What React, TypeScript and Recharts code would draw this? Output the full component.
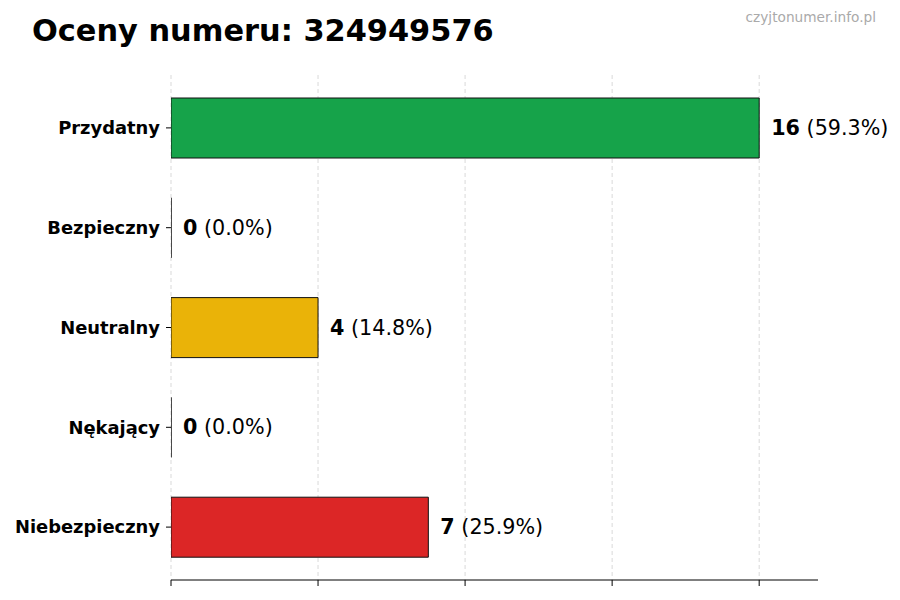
import { Bar, BarChart, CartesianGrid, Cell, LabelList, XAxis, YAxis } from 'recharts';

const CATEGORIES = ['Przydatny', 'Bezpieczny', 'Neutralny', 'Nękający', 'Niebezpieczny'];
const COUNTS = [16, 0, 4, 0, 7];
const COLORS = ['#16a34a', '#6b7280', '#eab308', '#f97316', '#dc2626'];
const X_TICKS = [0, 4, 8, 12, 16];
const X_MAX = 17.6;

const TOTAL = COUNTS.reduce((sum, n) => sum + n, 0);

const data = CATEGORIES.map((name, i) => ({
  name,
  value: COUNTS[i],
  pct: TOTAL ? (COUNTS[i] / TOTAL) * 100 : 0,
}));

const FONT = '"DejaVu Sans", sans-serif';

/** Rect drawn as a path so zero-width bars still show their outline. */
function OutlinedBar(props: any) {
  const { x, y, width, height, fill } = props;
  const w = Math.max(width || 0, 0);
  return (
    <path
      d={`M${x},${y}h${w}v${height}h${-w}Z`}
      fill={fill}
      stroke="#111"
      strokeWidth={1}
    />
  );
}

function ValueLabel(props: any) {
  const { x, y, width, height, index } = props;
  const row = data[index];
  return (
    <text
      x={x + Math.max(width, 0) + 12}
      y={y + height / 2}
      dominantBaseline="central"
      fontFamily={FONT}
      fontSize={20.7}
      fill="#000"
    >
      <tspan fontWeight="bold">{row.value}</tspan>
      <tspan> ({row.pct.toFixed(1)}%)</tspan>
    </text>
  );
}

// grid only at the tick values, not at the plot's right edge
function gridXs(props: any) {
  const scale = props?.xAxis?.scale;
  if (typeof scale === 'function') return X_TICKS.map((t) => scale(t));
  if (scale && typeof scale.map === 'function') return X_TICKS.map((t) => scale.map(t));
  const off = props?.offset ?? { left: 171, width: 647 };
  return X_TICKS.map((t) => off.left + (t / X_MAX) * off.width);
}

export default function App() {
  return (
    <div style={{ position: 'absolute', left: 0, top: 0, width: 900, height: 600, background: '#fff' }}>
      <svg width={900} height={60} style={{ position: 'absolute', left: 0, top: 0 }}>
        <text x={32} y={41} fontFamily={FONT} fontWeight="bold" fontSize={30.4} fill="#000">
          Oceny numeru: 324949576
        </text>
        <text x={876} y={22} textAnchor="end" fontFamily={FONT} fontSize={13.7} fill="#aaa">
          czyjtonumer.info.pl
        </text>
      </svg>
      <BarChart
        width={900}
        height={600}
        data={data}
        layout="vertical"
        margin={{ top: 75, right: 82, bottom: 0, left: 0 }}
        barSize={60}
      >
        <CartesianGrid
          horizontal={false}
          stroke="#d9d9d9"
          strokeDasharray="4 3"
          verticalCoordinatesGenerator={gridXs}
        />
        <XAxis
          type="number"
          domain={[0, X_MAX]}
          ticks={X_TICKS}
          allowDataOverflow
          height={20}
          tickSize={6}
          tick={() => <g />}
          axisLine={{ stroke: '#000' }}
          tickLine={{ stroke: '#000' }}
        />
        <YAxis
          type="category"
          dataKey="name"
          width={171}
          axisLine={false}
          tickSize={5}
          tickMargin={6}
          tickLine={{ stroke: '#000' }}
          padding={{ top: 3, bottom: 3 }}
          tick={{ fontFamily: FONT, fontWeight: 'bold', fontSize: 17.9, fill: '#000' }}
        />
        <Bar dataKey="value" isAnimationActive={false} shape={<OutlinedBar />}>
          {data.map((row, i) => (
            <Cell key={row.name} fill={COLORS[i]} />
          ))}
          <LabelList dataKey="value" content={<ValueLabel />} />
        </Bar>
      </BarChart>
    </div>
  );
}
